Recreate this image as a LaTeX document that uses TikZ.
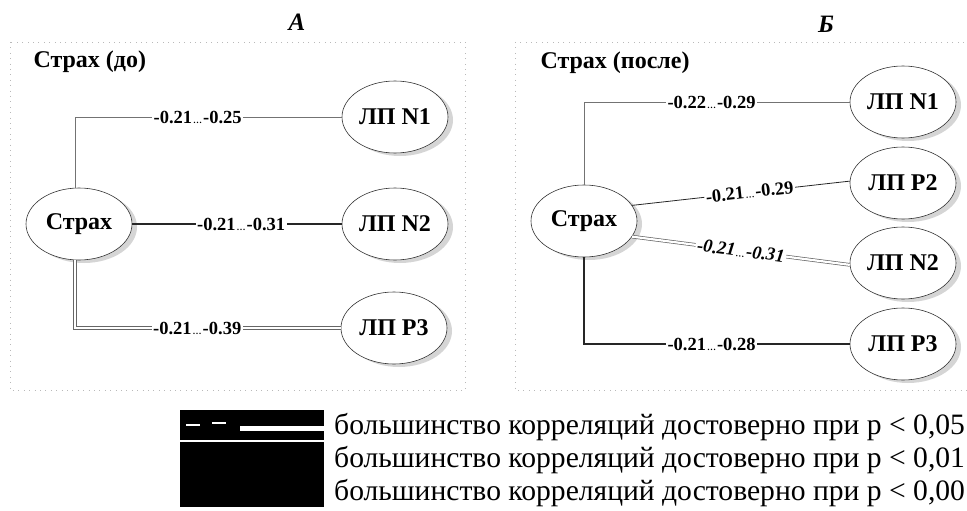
\documentclass[tikz,border=0pt]{standalone}
\usepackage{fontspec}
\setmainfont{Liberation Serif}
\usetikzlibrary{positioning, shapes.geometric, shadows}

% range label with a small ellipsis
\newcommand{\rng}[2]{-#1\kern1pt{\fontsize{9}{9}\selectfont …}\kern1pt-#2}

\begin{document}
\begin{tikzpicture}[x=1pt, y=-1pt,
    lp/.style={ellipse, draw=black!80, line width=0.6pt, fill=white,
      minimum width=106pt, minimum height=72pt, inner sep=0pt,
      font=\fontsize{24}{24}\selectfont\bfseries,
      drop shadow={shadow xshift=5pt, shadow yshift=-3pt, fill=gray!65}},
    lbl/.style={fill=white, inner sep=1.5pt, font=\fontsize{18.5}{18.5}\selectfont\bfseries},
    thinline/.style={draw=gray!90!black, line width=0.8pt},
    darkline/.style={draw=black!85, line width=1.1pt},
    dblline/.style={draw=gray!80!black, line width=0.7pt, double=white, double distance=2.2pt},
    frame/.style={draw=gray!55, line width=0.9pt, dash pattern=on 0.9pt off 4.5pt},
    head/.style={font=\fontsize{24}{24}\selectfont\bfseries},
    legtext/.style={anchor=base west, inner sep=0pt, font=\fontsize{29.6}{29.6}\selectfont}]
  \useasboundingbox (0,0) rectangle (967,511);

  % panel frames
  \draw[frame] (10,42) rectangle (465,390);
  \draw[frame] (515,42) rectangle (980,390);

  \node[font=\fontsize{25}{25}\selectfont\bfseries\itshape] (ta) at (297,22) {А};
  \node[font=\fontsize{25}{25}\selectfont\bfseries\itshape] (tb) at (826,24) {Б};
  \node[head, anchor=west] (ha) at (30,62) {Страх (до)};
  \node[head, anchor=west] (hb) at (537,63) {Страх (после)};

  % A: before
  \node[lp] (fa) at (79,224) {Страх};
  \node[lp] (a1) at (395,117) {ЛП N1};
  \node[lp] (a2) at (395,224) {ЛП N2};
  \node[lp] (a3) at (394,328) {ЛП Р3};

  \draw[thinline] ([xshift=-4pt]fa.north) |- node[lbl, pos=0.73] {\rng{0.21}{0.25}} (a1.west);
  \draw[darkline] (fa.east) -- node[lbl, pos=0.52] {\rng{0.21}{0.31}} (a2.west);
  \draw[dblline] ([xshift=-4pt]fa.south) |- node[lbl, pos=0.73] {\rng{0.21}{0.39}} (a3.west);

  % B: after
  \node[lp] (fb) at (584,221) {Страх};
  \node[lp] (b1) at (903,102) {ЛП N1};
  \node[lp] (b2) at (903,183) {ЛП Р2};
  \node[lp] (b3) at (903,263) {ЛП N2};
  \node[lp] (b4) at (903,344) {ЛП Р3};

  \draw[thinline] (fb.north) |- node[lbl, pos=0.74] {\rng{0.22}{0.29}} (b1.west);
  \draw[darkline, line width=0.8pt] (fb.18) -- node[lbl, sloped, pos=0.54] {\rng{0.21}{0.29}} (b2.178);
  \draw[dblline] (fb.-18) -- node[lbl, sloped, pos=0.5, font=\fontsize{18.5}{18.5}\selectfont\bfseries\itshape] {\rng{0.21}{0.31}} (b3.182);
  \draw[darkline, line width=1.3pt] (fb.south) |- node[lbl, pos=0.74] {\rng{0.21}{0.28}} (b4.west);

  % legend
  \fill[black] (180,410) rectangle (324,507);
  \fill[white] (240,426) rectangle (324,431);
  \draw[white, line width=1.5pt] (180,441) -- (324,441);
  \draw[white, line width=1.2pt] (186,425) -- (200,425) (212,423) -- (226,423);
  \node[legtext] (l1) at (334,434) {большинство корреляций достоверно при p < 0,05};
  \node[legtext] (l2) at (334,467) {большинство корреляций достоверно при p < 0,01};
  \node[legtext] (l3) at (334,500) {большинство корреляций достоверно при p < 0,00};
\end{tikzpicture}
\end{document}
